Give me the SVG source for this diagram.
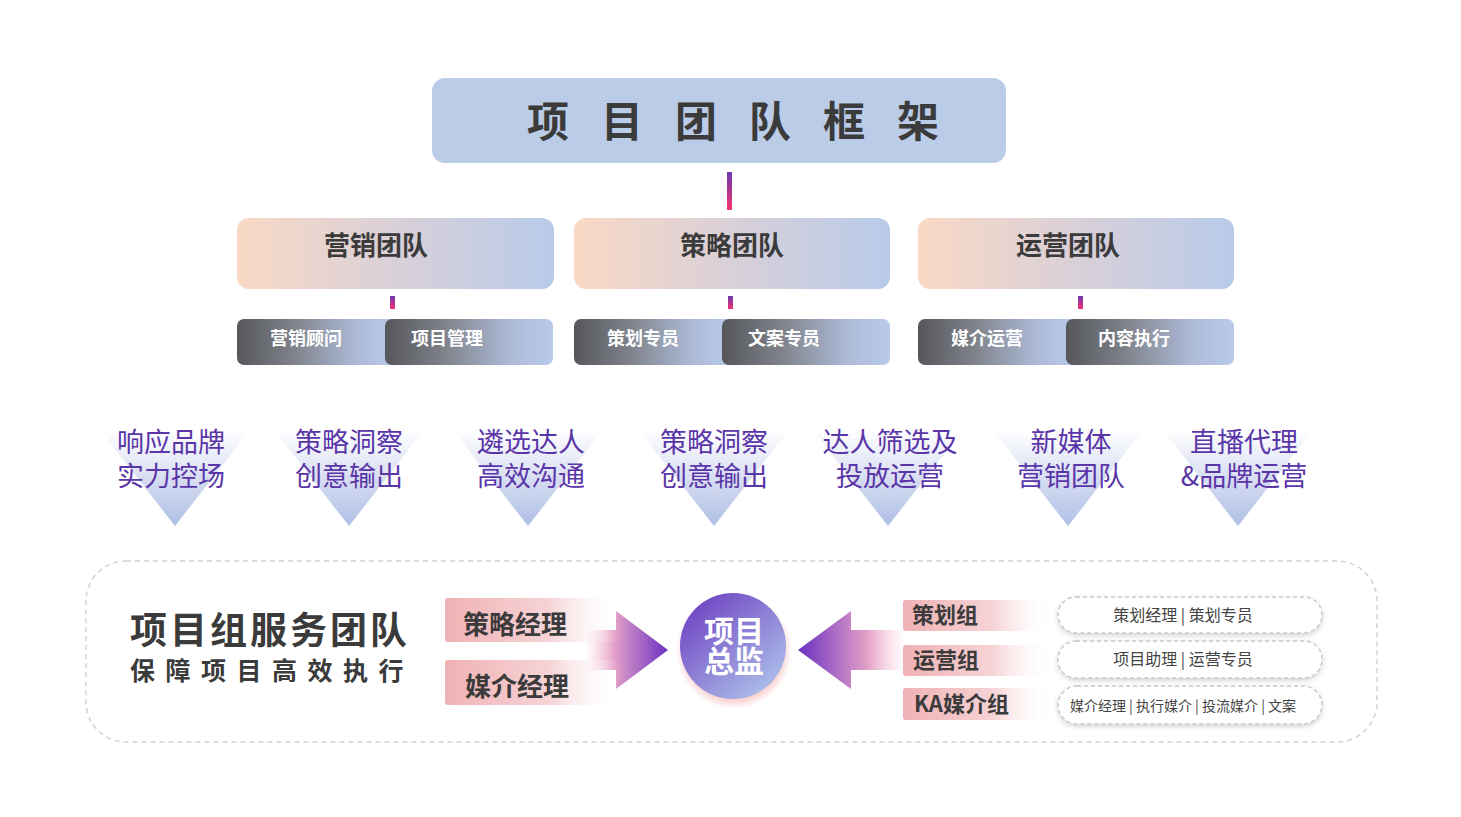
<svg xmlns="http://www.w3.org/2000/svg" width="1461" height="817" viewBox="0 0 1461 817">
<defs>
<linearGradient id="gTeam" x1="0" y1="0" x2="1" y2="0"><stop offset="0" stop-color="#f9d9c5"/><stop offset="0.5" stop-color="#d9d0d8"/><stop offset="1" stop-color="#b8cbea"/></linearGradient>
<linearGradient id="gSub" x1="0" y1="0" x2="1" y2="0"><stop offset="0" stop-color="#55575b"/><stop offset="0.35" stop-color="#7f828a"/><stop offset="0.75" stop-color="#adbbd8"/><stop offset="1" stop-color="#b9cbea"/></linearGradient>
<linearGradient id="gLine" x1="0" y1="0" x2="0" y2="1"><stop offset="0" stop-color="#6a38b0"/><stop offset="1" stop-color="#f5336e"/></linearGradient>
<linearGradient id="gTri" x1="0" y1="0" x2="0" y2="1"><stop offset="0" stop-color="#ffffff"/><stop offset="0.5" stop-color="#d8def2"/><stop offset="1" stop-color="#aebfe5"/></linearGradient>
<linearGradient id="gPink" x1="0" y1="0" x2="1" y2="0"><stop offset="0" stop-color="#f0b2b4"/><stop offset="0.6" stop-color="#f6d3d6"/><stop offset="1" stop-color="#ffffff" stop-opacity="0"/></linearGradient>
<linearGradient id="gArrR" x1="0" y1="0" x2="1" y2="0"><stop offset="0" stop-color="#f6c4d0" stop-opacity="0"/><stop offset="0.35" stop-color="#e4a0c8"/><stop offset="1" stop-color="#6a30c0"/></linearGradient>
<linearGradient id="gArrL" x1="1" y1="0" x2="0" y2="0"><stop offset="0" stop-color="#f6c4d0" stop-opacity="0"/><stop offset="0.35" stop-color="#e4a0c8"/><stop offset="1" stop-color="#6a30c0"/></linearGradient>
<linearGradient id="gCircle" x1="0.15" y1="0.1" x2="0.85" y2="0.9"><stop offset="0" stop-color="#7248c4"/><stop offset="1" stop-color="#abbde9"/></linearGradient>
<radialGradient id="gGlow" cx="0.5" cy="0.5" r="0.5"><stop offset="0.8" stop-color="#f7b8b8" stop-opacity="0.8"/><stop offset="1" stop-color="#f7b8b8" stop-opacity="0"/></radialGradient>
<filter id="fShadow" x="-10%" y="-30%" width="120%" height="160%"><feDropShadow dx="0" dy="2" stdDeviation="2.5" flood-color="#000" flood-opacity="0.18"/></filter>
</defs>
<style>
.cjk{font-family:"Noto Sans CJK SC","Noto Sans",sans-serif}
.dark{fill:#3b3b3b;font-weight:bold}
.team{font-size:26px}
.sub{fill:#ffffff;font-weight:bold;font-size:18px}
.tri{fill:#5a36a8;font-size:27px}
.pk{font-size:26px}
.grp{font-size:22px}
.pill{fill:#ffffff;stroke:#c8c8c8;stroke-width:1.5;stroke-dasharray:4 3}
.ptext{fill:#444;font-size:16px}
.ptext-s{fill:#444;font-size:14px}
</style>
<rect width="1461" height="817" fill="#ffffff"/>

<g id="service-panel">
<rect x="86" y="561" width="1291" height="181" rx="40" fill="none" stroke="#d2d2d2" stroke-width="1.5" stroke-dasharray="5 4"/>
<text class="cjk dark" x="130" y="644" font-size="37" letter-spacing="3">项目组服务团队</text>
<text class="cjk dark" x="130" y="680" font-size="25" letter-spacing="10.5">保障项目高效执行</text>
</g>

<g id="connectors">
<rect x="727" y="172" width="5" height="38" fill="url(#gLine)"/>
<rect x="390" y="296" width="5" height="13" fill="url(#gLine)"/>
<rect x="728" y="296" width="5" height="13" fill="url(#gLine)"/>
<rect x="1078" y="296" width="5" height="13" fill="url(#gLine)"/>
<path d="M585 630 H616 V611 L668 650 L616 689 V670 H585 Z" fill="url(#gArrR)"/>
<path d="M905 630 H851 V611 L798 650 L851 689 V670 H905 Z" fill="url(#gArrL)"/>
</g>

<g id="title">
<rect x="432" y="78" width="574" height="85" rx="13" fill="#bacce8"/>
<text class="cjk dark" x="548 622 696 770 844 918" y="137" font-size="42" text-anchor="middle">项目团队框架</text>
</g>

<g id="team-marketing">
<rect x="237" y="218" width="317" height="71" rx="12" fill="url(#gTeam)"/>
<text class="cjk dark team" x="376" y="255" text-anchor="middle">营销团队</text>
</g>
<g id="team-strategy">
<rect x="574" y="218" width="316" height="71" rx="12" fill="url(#gTeam)"/>
<text class="cjk dark team" x="732" y="255" text-anchor="middle">策略团队</text>
</g>
<g id="team-ops">
<rect x="918" y="218" width="316" height="71" rx="12" fill="url(#gTeam)"/>
<text class="cjk dark team" x="1068" y="255" text-anchor="middle">运营团队</text>
</g>

<g id="sub-1"><rect x="237" y="319" width="160" height="46" rx="7" fill="url(#gSub)"/><text class="cjk sub" x="306" y="345" text-anchor="middle">营销顾问</text></g>
<g id="sub-2"><rect x="385" y="319" width="168" height="46" rx="7" fill="url(#gSub)"/><text class="cjk sub" x="447" y="345" text-anchor="middle">项目管理</text></g>
<g id="sub-3"><rect x="574" y="319" width="158" height="46" rx="7" fill="url(#gSub)"/><text class="cjk sub" x="643" y="345" text-anchor="middle">策划专员</text></g>
<g id="sub-4"><rect x="722" y="319" width="168" height="46" rx="7" fill="url(#gSub)"/><text class="cjk sub" x="784" y="345" text-anchor="middle">文案专员</text></g>
<g id="sub-5"><rect x="918" y="319" width="159" height="46" rx="7" fill="url(#gSub)"/><text class="cjk sub" x="987" y="345" text-anchor="middle">媒介运营</text></g>
<g id="sub-6"><rect x="1066" y="319" width="168" height="46" rx="7" fill="url(#gSub)"/><text class="cjk sub" x="1134" y="345" text-anchor="middle">内容执行</text></g>

<g id="tri-1"><path d="M100 430 H250 L175 526 Z" fill="url(#gTri)"/><text class="cjk tri" x="171" y="452" text-anchor="middle">响应品牌</text><text class="cjk tri" x="171" y="486" text-anchor="middle">实力控场</text></g>
<g id="tri-2"><path d="M274 430 H424 L349 526 Z" fill="url(#gTri)"/><text class="cjk tri" x="349" y="452" text-anchor="middle">策略洞察</text><text class="cjk tri" x="349" y="486" text-anchor="middle">创意输出</text></g>
<g id="tri-3"><path d="M453 430 H603 L528 526 Z" fill="url(#gTri)"/><text class="cjk tri" x="531" y="452" text-anchor="middle">遴选达人</text><text class="cjk tri" x="531" y="486" text-anchor="middle">高效沟通</text></g>
<g id="tri-4"><path d="M639 430 H789 L714 526 Z" fill="url(#gTri)"/><text class="cjk tri" x="714" y="452" text-anchor="middle">策略洞察</text><text class="cjk tri" x="714" y="486" text-anchor="middle">创意输出</text></g>
<g id="tri-5"><path d="M813 430 H963 L888 526 Z" fill="url(#gTri)"/><text class="cjk tri" x="890" y="452" text-anchor="middle">达人筛选及</text><text class="cjk tri" x="890" y="486" text-anchor="middle">投放运营</text></g>
<g id="tri-6"><path d="M993 430 H1143 L1068 526 Z" fill="url(#gTri)"/><text class="cjk tri" x="1071" y="452" text-anchor="middle">新媒体</text><text class="cjk tri" x="1071" y="486" text-anchor="middle">营销团队</text></g>
<g id="tri-7"><path d="M1163 430 H1313 L1238 526 Z" fill="url(#gTri)"/><text class="cjk tri" x="1244" y="452" text-anchor="middle">直播代理</text><text class="cjk tri" x="1244" y="486" text-anchor="middle">&amp;品牌运营</text></g>

<g id="mgr-strategy"><rect x="445" y="598" width="175" height="44" rx="3" fill="url(#gPink)"/><text class="cjk dark pk" x="463" y="634">策略经理</text></g>
<g id="mgr-media"><rect x="445" y="660" width="175" height="45" rx="3" fill="url(#gPink)"/><text class="cjk dark pk" x="465" y="696">媒介经理</text></g>

<g id="director">
<circle cx="734" cy="651" r="58" fill="url(#gGlow)"/>
<circle cx="733" cy="646" r="53" fill="url(#gCircle)"/>
<text class="cjk" x="734" y="642" font-size="30" fill="#ffffff" font-weight="bold" text-anchor="middle">项目</text>
<text class="cjk" x="734" y="672" font-size="30" fill="#ffffff" font-weight="bold" text-anchor="middle">总监</text>
</g>

<g id="grp-plan"><rect x="903" y="600" width="150" height="31" rx="3" fill="url(#gPink)"/><text class="cjk dark grp" x="912" y="623">策划组</text></g>
<g id="grp-ops"><rect x="903" y="645" width="150" height="31" rx="3" fill="url(#gPink)"/><text class="cjk dark grp" x="913" y="668">运营组</text></g>
<g id="grp-ka"><rect x="903" y="688" width="150" height="32" rx="3" fill="url(#gPink)"/><text class="cjk dark grp" x="914" y="712">KA媒介组</text></g>

<g id="pill-1"><rect class="pill" x="1058" y="597" width="264" height="36" rx="18" filter="url(#fShadow)"/><text class="cjk ptext" x="1183" y="621" text-anchor="middle">策划经理 | 策划专员</text></g>
<g id="pill-2"><rect class="pill" x="1058" y="641" width="264" height="37" rx="18" filter="url(#fShadow)"/><text class="cjk ptext" x="1183" y="665" text-anchor="middle">项目助理 | 运营专员</text></g>
<g id="pill-3"><rect class="pill" x="1058" y="686" width="264" height="38" rx="19" filter="url(#fShadow)"/><text class="cjk ptext-s" x="1183" y="711" text-anchor="middle">媒介经理 | 执行媒介 | 投流媒介 | 文案</text></g>
</svg>
